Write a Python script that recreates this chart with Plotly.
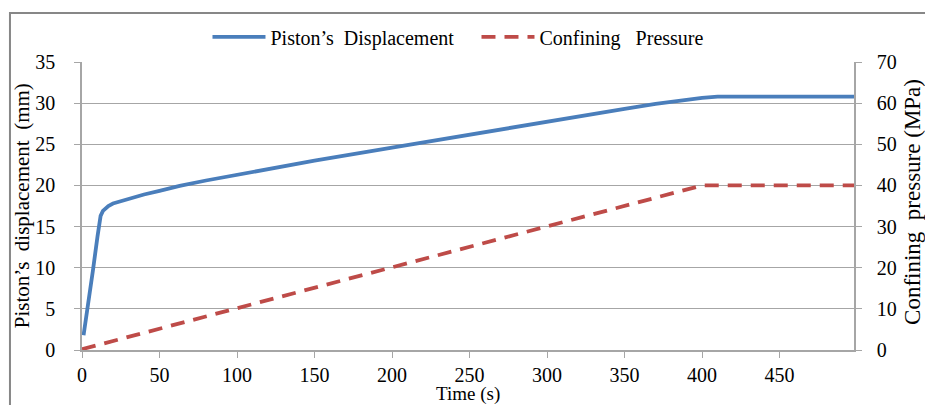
import plotly.graph_objects as go

# ---- data ----
time_disp = [1, 4, 7, 10, 12, 13.5, 15, 17, 20, 25, 30, 40, 50, 63, 80, 100, 150, 200,
             250, 300, 350, 370, 385, 400, 410, 470, 476, 482, 488, 498]
displacement = [1.8, 5.4, 9.6, 13.8, 16.3, 16.9, 17.2, 17.5, 17.8, 18.1, 18.4, 18.9, 19.35,
                19.95, 20.6, 21.3, 23.0, 24.6, 26.2, 27.8, 29.3, 29.9, 30.3, 30.65, 30.8,
                30.8, 30.9, 30.9, 30.8, 30.78]
time_press = [0, 400, 498]
pressure = [0.2, 40, 40]

x_ticks = [0, 50, 100, 150, 200, 250, 300, 350, 400, 450]
left_ticks = [0, 5, 10, 15, 20, 25, 30, 35]
right_ticks = [0, 10, 20, 30, 40, 50, 60, 70]

x_title = "Time (s)"
left_title = "Piston\u2019s  displacement  (mm)"
right_title = "Confining  pressure (MPa)"

FONT = "Liberation Serif"
GRID = "#A6A6A6"

fig = go.Figure()
fig.add_trace(go.Scatter(x=time_disp, y=displacement, mode="lines",
                         name="Piston\u2019s  Displacement",
                         line=dict(color="#4A7EBB", width=3.8)))
fig.add_trace(go.Scatter(x=time_press, y=pressure, mode="lines",
                         name="Confining   Pressure", yaxis="y2",
                         line=dict(color="#BE4B48", width=3.8, dash="14px,9px")))

fig.update_layout(
    width=925, height=405,
    margin=dict(l=82, r=71, t=62, b=55, autoexpand=False),
    paper_bgcolor="white", plot_bgcolor="white",
    font=dict(family=FONT, size=20, color="black"),
    showlegend=True,
    legend=dict(orientation="h", x=0.511, xanchor="center", y=1.087, yanchor="middle",
                font=dict(family=FONT, size=20), bgcolor="rgba(0,0,0,0)",
                itemwidth=53, entrywidth=201, tracegroupgap=0),
    xaxis=dict(range=[0, 498], tickvals=x_ticks, showgrid=False, zeroline=False,
               showline=True, linecolor=GRID, linewidth=1.5, automargin=False,
               ticks="outside", ticklen=6, tickcolor=GRID, ticklabelstandoff=0,
               tickfont=dict(family=FONT, size=20)),
    yaxis=dict(range=[0, 35], tickvals=left_ticks, showgrid=True, gridcolor=GRID,
               gridwidth=1.2, zeroline=False, showline=True, linecolor=GRID,
               linewidth=1.5, ticks="outside", ticklen=6, tickcolor=GRID,
               ticklabelstandoff=15,
               automargin=False, tickfont=dict(family=FONT, size=20)),
    yaxis2=dict(range=[0, 70], tickvals=right_ticks, overlaying="y", side="right",
                showgrid=False, zeroline=False, showline=True, linecolor=GRID,
                linewidth=1.5, ticks="outside", ticklen=6, tickcolor=GRID,
                ticklabelstandoff=11,
                automargin=False, tickfont=dict(family=FONT, size=20)),
    annotations=[
        dict(text=x_title, xref="paper", yref="paper", x=0.5, y=-0.153,
             xanchor="center", yanchor="middle", showarrow=False,
             font=dict(family=FONT, size=19)),
        dict(text=left_title, xref="paper", yref="paper", x=-0.0775, y=0.5,
             textangle=-90, xanchor="center", yanchor="middle", showarrow=False,
             font=dict(family=FONT, size=21)),
        dict(text=right_title, xref="paper", yref="paper", x=1.0764, y=0.514,
             textangle=-90, xanchor="center", yanchor="middle", showarrow=False,
             font=dict(family=FONT, size=23)),
    ],
    shapes=[dict(type="rect", xref="paper", yref="paper",
                 x0=-0.0933, x1=1.2, y0=-0.3, y1=1.17,
                 line=dict(color="#878787", width=2), fillcolor="rgba(0,0,0,0)",
                 layer="below")],
)

fig.write_html("out.html", config={"displayModeBar": False},
               post_script="document.body.style.margin='0';"
                           "document.body.style.overflow='hidden';")
